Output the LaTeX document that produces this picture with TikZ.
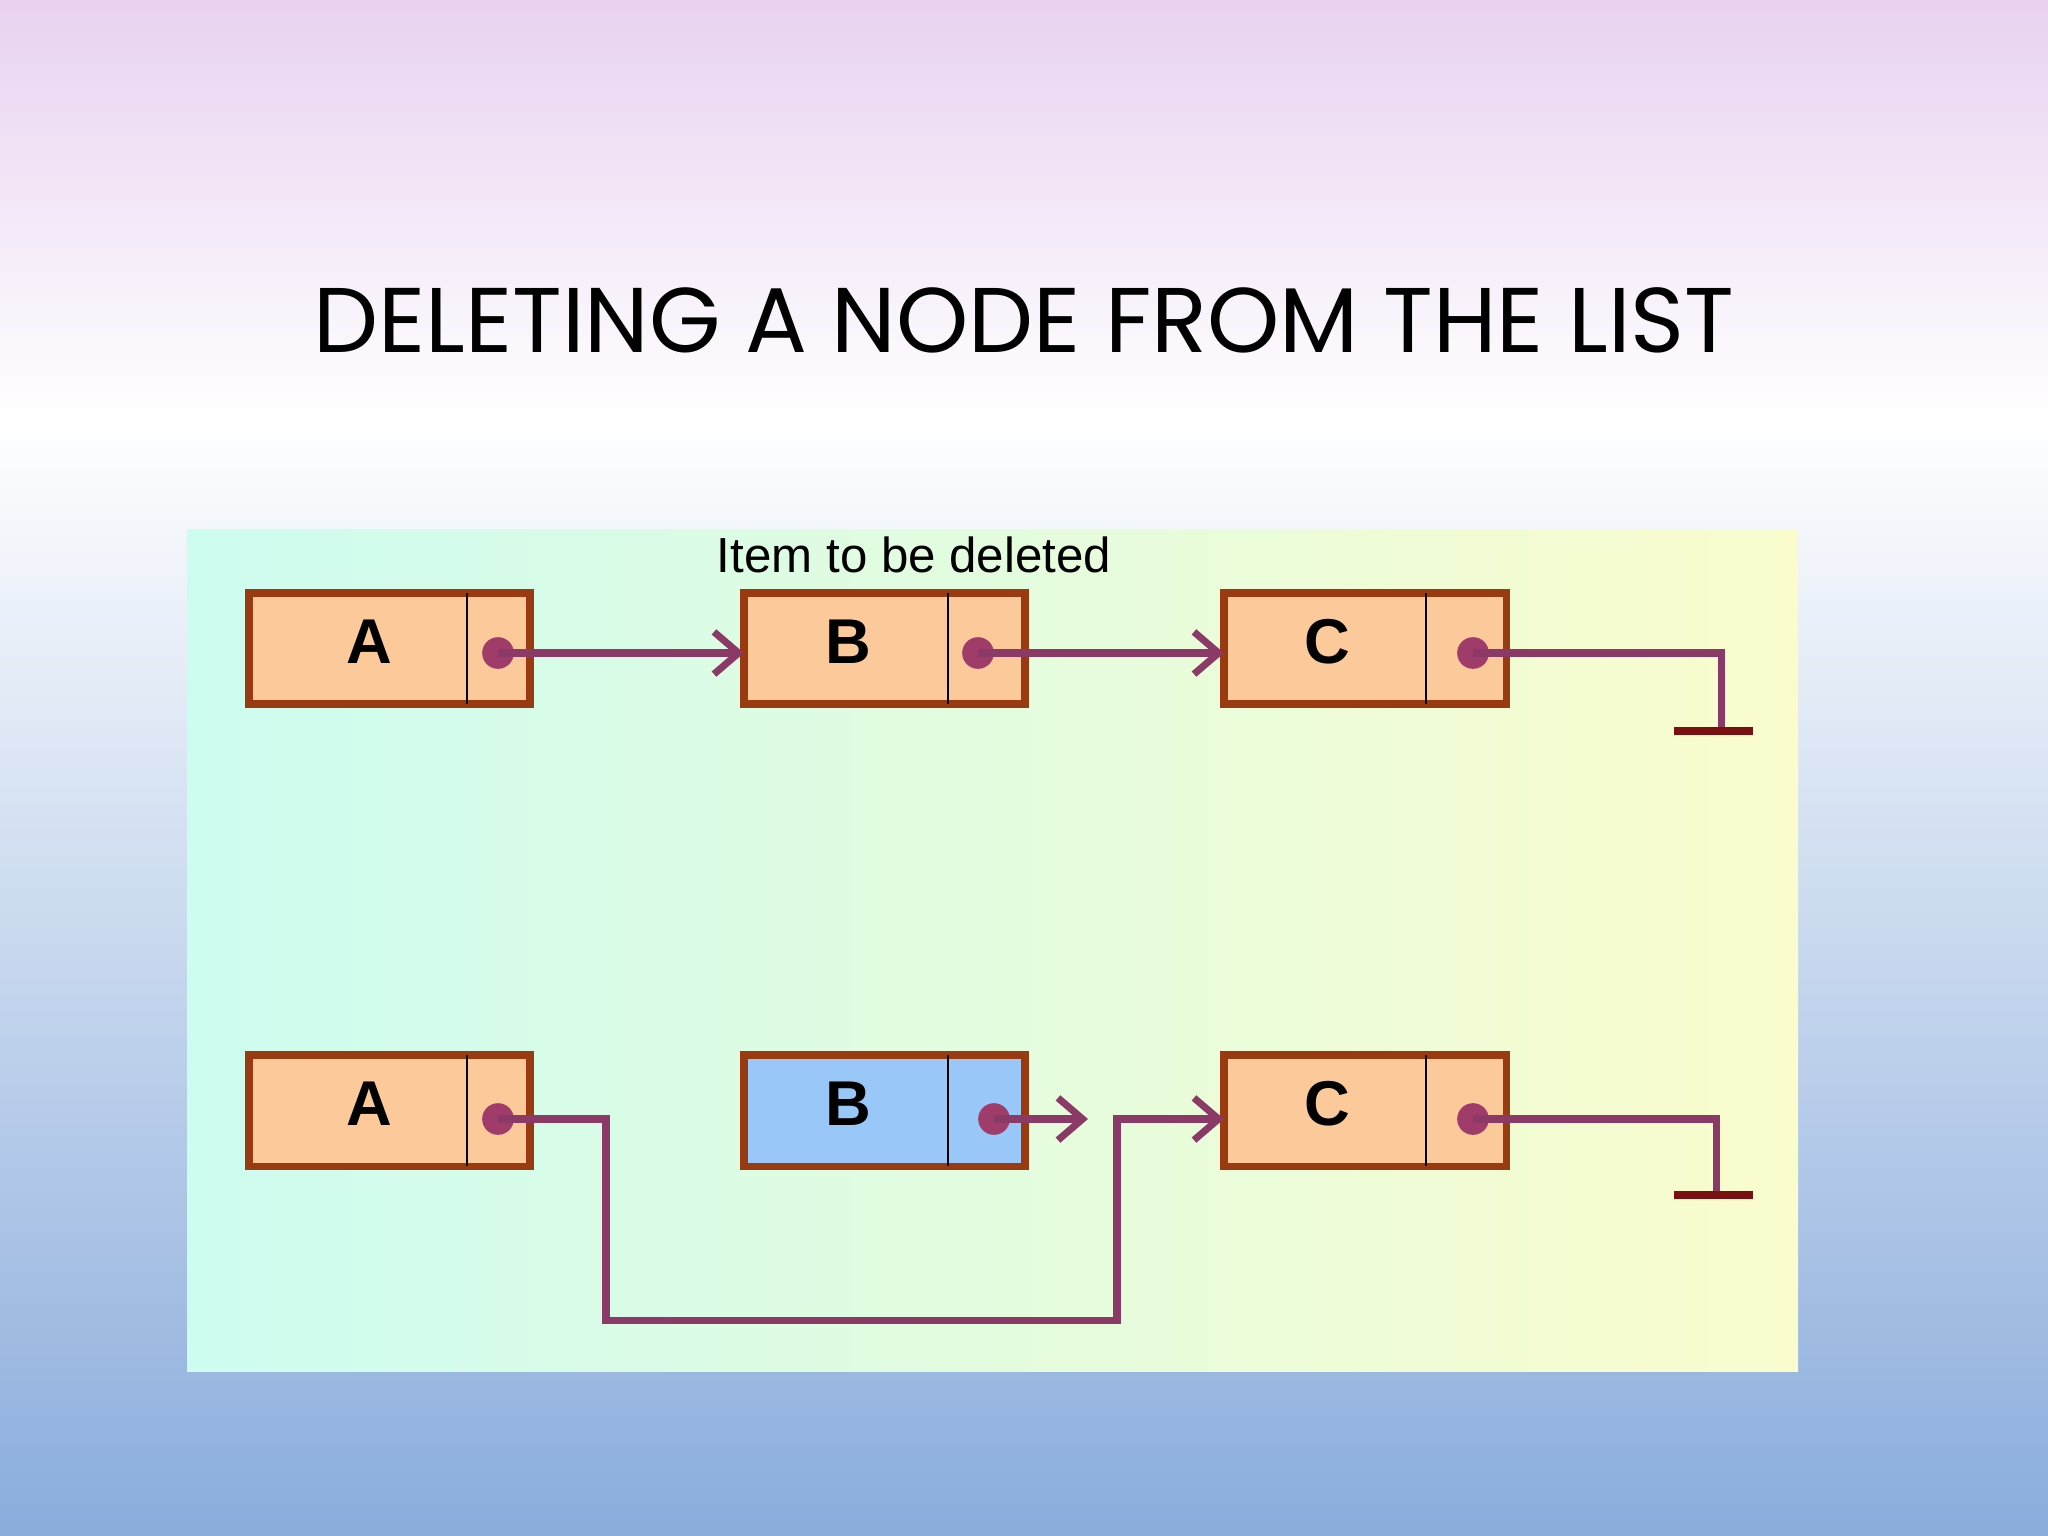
\documentclass[tikz,border=0pt]{standalone}
\usepackage{fontspec}
\setmainfont{Liberation Sans}
\newfontfamily\titlefont{Poppins}
\usetikzlibrary{arrows.meta}
\definecolor{boxfill}{HTML}{FCC99A}
\definecolor{boxline}{HTML}{9A3A10}
\definecolor{bfill}{HTML}{99C8F8}
\definecolor{link}{HTML}{8B3A68}
\definecolor{dotc}{HTML}{A03C6A}
\definecolor{gnd}{HTML}{7A1010}
\tikzset{
 cell/.style={draw=boxline,line width=2pt,fill=boxfill},
 lnk/.style={draw=link,line width=2pt},
 arr/.style={lnk,-{Straight Barb[length=7pt,width=12pt,line width=2pt]}},
 dotn/.style={circle,fill=dotc,inner sep=0pt,minimum size=9pt},
 gline/.style={draw=gnd,line width=2.2pt},
 lab/.style={font=\bfseries\fontsize{18}{20}\selectfont}
}
\begin{document}
\begin{tikzpicture}[x=0.01cm,y=-0.01cm]
\useasboundingbox (0,0) rectangle (2048,1536);
\shade[top color={rgb,255:red,232;green,210;blue,240},bottom color=white] (0,0) rectangle (2048,420);
\shade[top color=white,bottom color={rgb,255:red,138;green,172;blue,220}] (0,419) rectangle (2048,1536);
\node (title) at (1024,320) {\resizebox{14.2cm}{!}{\titlefont DELETING A NODE FROM THE LIST}};
\shade[left color={rgb,255:red,205;green,252;blue,240},right color={rgb,255:red,250;green,252;blue,205}] (187,529) rectangle (1798,1371);
\node[font=\fontsize{14}{15}\selectfont] (item) at (914,555) {Item to be deleted};
\foreach \r/\y in {1/593,2/1055}{
 \draw[cell] (249,\y) rectangle (530,\y+111);
 \draw (467,\y) -- (467,\y+111);
 \draw[cell] (1224,\y) rectangle (1506,\y+111);
 \draw (1426,\y) -- (1426,\y+111);
}
\draw[cell] (744,593) rectangle (1025,704); \draw (948,593) -- (948,704);
\draw[cell,fill=bfill] (744,1055) rectangle (1025,1166); \draw (948,1055) -- (948,1166);
\foreach \y/\s in {642/1,1104/2}{
 \node[lab] (A\s) at (369,\y) {A};
 \node[lab] (C\s) at (1327,\y) {C};
 \node[lab] (B\s) at (848,\y) {B};
}
\node[dotn] (da1) at (498,653) {};
\node[dotn] (db1) at (978,653) {};
\node[dotn] (dc1) at (1473,653) {};
\node[dotn] (da2) at (498,1119) {};
\node[dotn] (db2) at (994,1119) {};
\node[dotn] (dc2) at (1473,1119) {};
\coordinate (bl1) at (744,653); \coordinate (cl1) at (1224,653);
\coordinate (cl2) at (1224,1119); \coordinate (bt2) at (1088,1119);
\coordinate (g1) at (1721,731); \coordinate (g2) at (1716,1195);
\draw[arr] (da1.center) -- (bl1);
\draw[arr] (db1.center) -- (cl1);
\draw[lnk] (dc1.center) -- (1721,653) -- (g1);
\draw[gline] (1674,731) -- (1753,731);
\draw[arr] (da2.center) -- (606,1119) -- (606,1320) -- (1117,1320) -- (1117,1119) -- (cl2);
\draw[arr] (db2.center) -- (bt2);
\draw[lnk] (dc2.center) -- (1716,1119) -- (g2);
\draw[gline] (1674,1195) -- (1753,1195);
\end{tikzpicture}
\end{document}
